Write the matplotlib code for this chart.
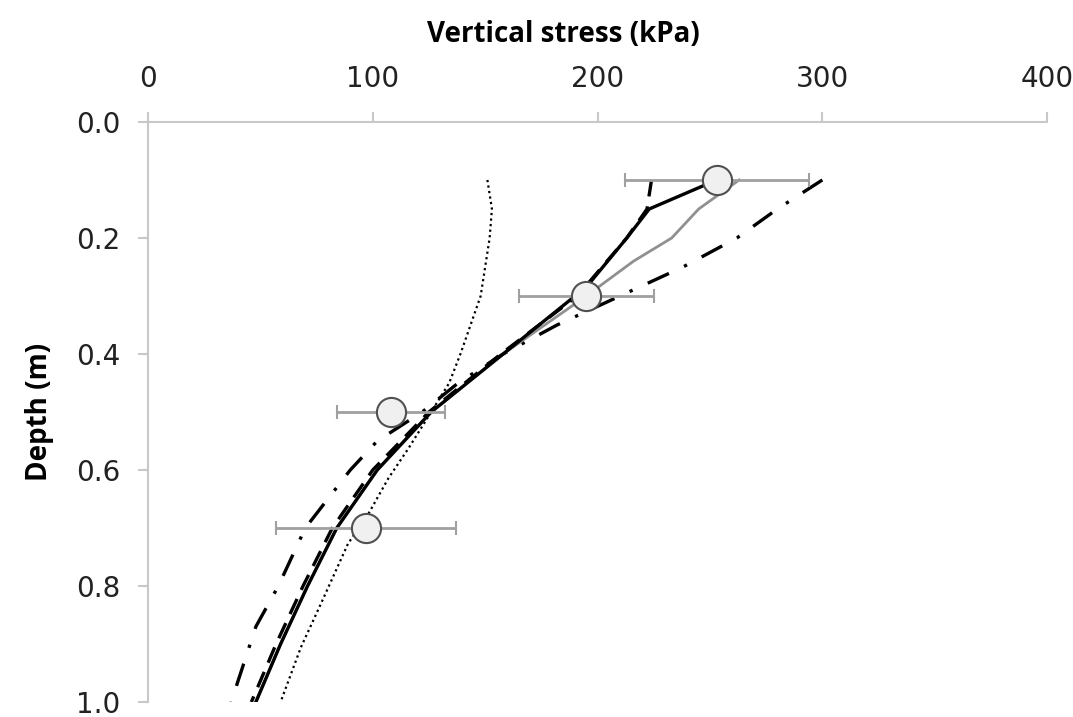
import matplotlib.pyplot as plt
import numpy as np

# measured points (with error bars)
meas_depth = [0.1, 0.3, 0.5, 0.7]
meas_stress = [253, 195, 108, 97]
meas_err = [41, 30, 24, 40]

# black solid
solid_depth = [0.1, 0.15, 0.2, 0.28, 0.3, 0.4, 0.5, 0.6, 0.7, 0.8, 0.9, 1.0]
solid_stress = [253, 223, 213, 196, 190, 158, 126, 102, 84, 71, 59, 48]

# grey solid
grey_depth = [0.1, 0.15, 0.2, 0.24, 0.3, 0.4, 0.5, 0.6, 0.7, 0.8, 0.9, 1.0]
grey_stress = [263, 245, 233, 216, 195, 158, 126, 102, 84, 71, 59, 48]

# long dashed
dash_depth = [0.1, 0.15, 0.2, 0.3, 0.4, 0.5, 0.6, 0.7, 0.8, 0.9, 1.0]
dash_stress = [224, 222, 213, 191, 157, 125, 100, 82, 69, 57, 46]

# dash-dot
dd_depth = [0.1, 0.15, 0.2, 0.25, 0.3, 0.35, 0.4, 0.45, 0.5, 0.55, 0.6, 0.7, 0.8, 0.87, 1.0]
dd_stress = [300, 280, 262, 238, 210, 182, 158, 138, 122, 102, 90, 70, 58, 48, 37]

# dotted
dot_depth = [0.1, 0.15, 0.2, 0.3, 0.4, 0.45, 0.5, 0.562, 0.614, 0.676, 0.727, 0.83, 0.906, 1.0]
dot_stress = [151, 153, 152, 148, 139, 134, 126, 116, 107, 98, 89, 77, 68, 59]

plt.rcParams['font.family'] = ['DejaVu Sans']

fig = plt.figure(figsize=(10.73, 7.17), dpi=100)
ax = fig.add_axes([0.1379, 0.0209, 0.838, 0.809])

ax.plot(dot_stress, dot_depth, color='black', lw=1.6, linestyle=(0, (1, 1.5)))
ax.plot(dd_stress, dd_depth, color='black', lw=2.4, linestyle=(0, (7, 5, 1, 5)))
ax.plot(grey_stress, grey_depth, color='#909090', lw=2.0)
ax.plot(solid_stress, solid_depth, color='black', lw=2.4)
ax.plot(dash_stress, dash_depth, color='black', lw=2.4, linestyle=(0, (5, 3)))

ax.errorbar(meas_stress, meas_depth, xerr=meas_err, fmt='o', color='#a0a0a0',
            ecolor='#a0a0a0', elinewidth=2, capsize=5, capthick=1.5,
            markersize=21, markerfacecolor='#f0f0f0', markeredgecolor='#505050',
            markeredgewidth=1.5, zorder=5)

ax.set_xlim(0, 400)
ax.set_ylim(1.0, 0.0)
ax.set_xticks([0, 100, 200, 300, 400])
ax.set_yticks([0.0, 0.2, 0.4, 0.6, 0.8, 1.0])
ax.set_yticklabels(['0.0', '0.2', '0.4', '0.6', '0.8', '1.0'])

ax.xaxis.set_ticks_position('top')
ax.xaxis.set_label_position('top')
for s in ['right', 'bottom']:
    ax.spines[s].set_visible(False)
for s in ['top', 'left']:
    ax.spines[s].set_color('#c8c8c8')
    ax.spines[s].set_linewidth(1.5)
ax.tick_params(colors='#c8c8c8', width=1.5, length=7, labelcolor='#222222', labelsize=20)
ax.tick_params(axis='x', pad=14)
ax.tick_params(axis='y', pad=13)

ax.set_xlabel('Vertical stress (kPa)', fontsize=20, fontweight='bold',
              family='Open Sans')
ax.xaxis.set_label_coords(0.462, 1.138)
ax.set_ylabel('Depth (m)', fontsize=20, fontweight='bold', labelpad=16,
              family='Open Sans')

fig.savefig('out.png', dpi=100)
